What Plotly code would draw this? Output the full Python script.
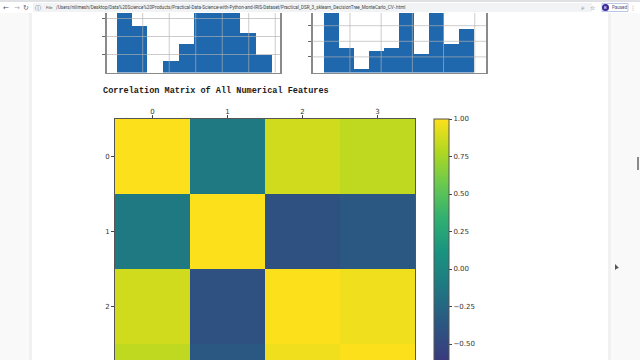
import plotly.graph_objects as go

# ---- data ----
feature_labels = [0, 1, 2, 3]
corr_row0 = [1.00, -0.11, 0.87, 0.82]
corr_row1 = [-0.11, 1.00, -0.42, -0.36]
corr_row2 = [0.87, -0.42, 1.00, 0.96]
corr_row3 = [0.82, -0.36, 0.96, 1.00]

left_edges = [4.01, 4.30, 4.59, 4.88, 5.18, 5.47, 5.76, 6.05, 6.34, 6.64, 6.93]
left_counts = [18, 13, 0, 3.3, 8, 22, 25, 20, 11, 5]
left_xticks = [4.5, 5.0, 5.5, 6.0, 6.5, 7.0]
left_yticks = [5, 10, 15]

right_edges = [2.18, 2.42, 2.66, 2.90, 3.14, 3.38, 3.62, 3.86, 4.10, 4.34, 4.58]
right_counts = [20, 8, 1, 7, 8, 21, 6, 23, 9, 14]
right_xticks = [2.6, 3.1, 3.6, 4.1, 4.6]
right_yticks = [5, 10, 15]

title_text = "Correlation Matrix of All Numerical Features"
url_text = ("/Users/nilimesh/Desktop/Data%20Science%20Products/Practical-Data-Science-with-Python-and-"
            "IRIS-Dataset/Practical_DSR_3_sklearn_DecisionTree_MonteCarlo_CV-.html")
cbar_ticks = [1.0, 0.75, 0.5, 0.25, 0.0, -0.25, -0.5, -0.75, -1.0]
# viridis as it appears in the (slightly darkened) screenshot
color_stops = [[0.0, "#440154"], [0.11, "#45206f"], [0.22, "#37407f"], [0.33, "#2a5a82"],
               [0.44, "#1f7882"], [0.56, "#1a9480"], [0.67, "#30b070"], [0.78, "#68c850"],
               [0.89, "#b0d820"], [1.0, "#fde01c"]]

W, H = 640, 360
BAR = "#1f68ad"
SPINE = "#8a8a8a"


def px(x):
    return x / W


def py(y):
    return 1 - y / H


def centers(e):
    return [(a + b) / 2 for a, b in zip(e[:-1], e[1:])]


def widths(e):
    return [b - a for a, b in zip(e[:-1], e[1:])]


fig = go.Figure()
fig.add_trace(go.Bar(x=centers(left_edges), y=left_counts, width=widths(left_edges),
                     marker=dict(color=BAR, line=dict(width=0)), xaxis="x", yaxis="y", showlegend=False))
fig.add_trace(go.Bar(x=centers(right_edges), y=right_counts, width=widths(right_edges),
                     marker=dict(color=BAR, line=dict(width=0)), xaxis="x2", yaxis="y2", showlegend=False))
fig.add_trace(go.Heatmap(
    z=[corr_row0, corr_row1, corr_row2, corr_row3], x=feature_labels, y=feature_labels,
    colorscale=color_stops, zmin=-1, zmax=1, xaxis="x3", yaxis="y3", xgap=0, ygap=0,
    colorbar=dict(x=px(434), xanchor="left", xpad=0, y=py(119), yanchor="top", ypad=0,
                  lenmode="pixels", len=300, thicknessmode="pixels", thickness=15,
                  outlinewidth=1, outlinecolor="#555", tickmode="array", tickvals=cbar_ticks,
                  ticktext=[f"{v:.2f}".replace("-", "\u2212") for v in cbar_ticks],
                  ticks="outside", ticklen=3, tickwidth=1, tickcolor="#444",
                  tickfont=dict(family="DejaVu Sans", size=7, color="#333")),
))

shapes = []


def rect(x0, y0, x1, y1, color, layer="below"):
    shapes.append(dict(type="rect", xref="paper", yref="paper", x0=px(x0), x1=px(x1),
                       y0=py(y1), y1=py(y0), fillcolor=color, line=dict(width=0), layer=layer))


# page gutters
rect(0, 0, 32, H, "#f9f9f9")
rect(29, 0, 32, H, "#f1f1f1")
rect(608, 0, W, H, "#f9f9f9")
rect(608, 0, 611, H, "#f1f1f1")
# overlaid grids (the original draws grid lines above the bars)
GRID = "rgba(176,176,176,0.65)"
for xref, yref, xt, yt in (("x", "y", left_xticks, left_yticks), ("x2", "y2", right_xticks, right_yticks)):
    for v in xt:
        shapes.append(dict(type="line", xref=xref, yref=f"{yref} domain", x0=v, x1=v, y0=0, y1=1,
                           line=dict(color=GRID, width=1), layer="above"))
    for v in yt:
        shapes.append(dict(type="line", xref=f"{xref} domain", yref=yref, x0=0, x1=1, y0=v, y1=v,
                           line=dict(color=GRID, width=1), layer="above"))
# browser chrome
rect(0, 0, W, 13, "#ffffff", "above")
rect(0, 0, W, 2, "#dfe1e5", "above")
shapes.append(dict(type="rect", xref="paper", yref="paper", x0=px(33), x1=px(592), y0=py(12), y1=py(3),
                   fillcolor="#f1f3f4", line=dict(width=0), layer="above"))
shapes.append(dict(type="rect", xref="paper", yref="paper", x0=px(602), x1=px(628), y0=py(11.5), y1=py(3.5),
                   fillcolor="#ffffff", line=dict(color="#b9c6e6", width=1), layer="above"))
shapes.append(dict(type="circle", xref="paper", yref="paper", x0=px(602), x1=px(609), y0=py(11), y1=py(4),
                   fillcolor="#3b2aa0", line=dict(width=0), layer="above"))
# scrollbar thumb
rect(637, 157, 639, 170, "#8a8a8a", "above")
# mouse cursor
shapes.append(dict(type="path", xref="paper", yref="paper", layer="above",
                   path=f"M {px(615)} {py(264)} L {px(615)} {py(270)} L {px(617)} {py(268.5)} L {px(619)} {py(268)} Z",
                   fillcolor="#555", line=dict(width=0)))


def note(x, y, text, size=4.2, color="#555", anchor="left", family="Roboto"):
    return dict(xref="paper", yref="paper", x=px(x), y=py(y), text=text, showarrow=False,
                xanchor=anchor, yanchor="middle", align=anchor,
                font=dict(family=family, size=size, color=color))


annotations = [
    note(100.5, 91, f"<b>{title_text}</b>", size=8.55, color="#1c1c1c", family="Liberation Mono"),
    note(54, 7.5, url_text, size=4.6, color="#444"),
    note(44, 7.5, "File", size=4.2, color="#555"),
    note(6, 7.5, "\u2190", size=7, color="#555", anchor="center", family="DejaVu Sans"),
    note(17, 7.5, "\u2192", size=7, color="#aaa", anchor="center", family="DejaVu Sans"),
    note(26, 7.5, "\u21bb", size=7, color="#555", anchor="center", family="DejaVu Sans"),
    note(38, 7.5, "\u24d8", size=6, color="#666", anchor="center", family="DejaVu Sans"),
    note(583, 7.5, "\u2315", size=7, color="#666", anchor="center", family="DejaVu Sans"),
    note(592, 7.5, "\u2606", size=6, color="#666", anchor="center", family="DejaVu Sans"),
    note(605.5, 7.5, "B", size=4, color="#ffffff", anchor="center"),
    note(610, 7.5, "Paused", size=4.5, color="#44507a"),
    note(633, 7.5, "\u22ee", size=6, color="#666", anchor="center", family="DejaVu Sans"),
]


def bar_x(l, r, rng, tickvals):
    return dict(domain=[px(l), px(r)], range=rng, showgrid=False, zeroline=False, showticklabels=False,
                ticks="", showline=True, linecolor=SPINE, linewidth=1, tickvals=tickvals)


def bar_y(rng, anchor, tickvals):
    return dict(domain=[py(72.5), py(13)], range=rng, anchor=anchor, showgrid=False, zeroline=False,
                showticklabels=False, ticks="outside", ticklen=3, tickwidth=1, tickcolor="#666",
                showline=True, linecolor=SPINE, linewidth=1.5, mirror=True, tickvals=tickvals)


fig.update_layout(
    width=W, height=H, margin=dict(l=0, r=0, t=0, b=0, autoexpand=False),
    paper_bgcolor="#ffffff", plot_bgcolor="rgba(0,0,0,0)", bargap=0, showlegend=False,
    xaxis=dict(bar_x(107, 280, [3.826, 7.09], left_xticks), anchor="y"),
    yaxis=bar_y([0, 16.53], "x", left_yticks),
    xaxis2=dict(bar_x(312.5, 486, [2.0, 4.78], right_xticks), anchor="y2"),
    yaxis2=bar_y([0, 19.07], "x2", right_yticks),
    xaxis3=dict(domain=[px(115), px(415)], range=[-0.5, 3.5], side="top", anchor="y3",
                tickvals=feature_labels, ticks="outside", ticklen=3, tickcolor="#444",
                ticklabelstandoff=-2,
                tickfont=dict(family="DejaVu Sans", size=7, color="#333"),
                showgrid=False, zeroline=False, showline=True, linecolor="#555", linewidth=1, mirror=True),
    yaxis3=dict(domain=[0, py(119)], range=[2.713, -0.5], anchor="x3",
                tickvals=feature_labels, ticks="outside", ticklen=3, tickcolor="#444",
                tickfont=dict(family="DejaVu Sans", size=7, color="#333"),
                showgrid=False, zeroline=False, showline=True, linecolor="#555", linewidth=1, mirror=True),
    shapes=shapes, annotations=annotations,
)
fig.write_html("out.html", config=dict(displayModeBar=False),
               post_script="document.body.style.margin='0';document.documentElement.style.overflow='hidden';")
